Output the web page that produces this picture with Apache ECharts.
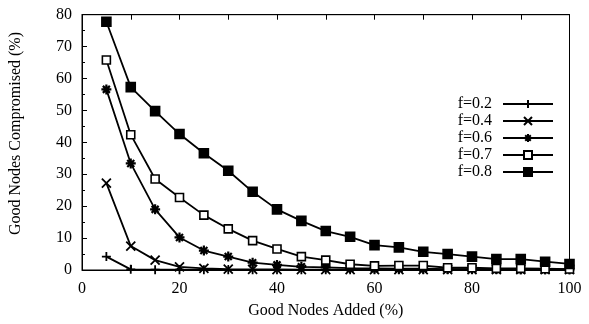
<!DOCTYPE html>
<html><head><meta charset="utf-8">
<script src="https://cdn.jsdelivr.net/npm/echarts@6/dist/echarts.min.js"></script>
<style>html,body{margin:0;padding:0;background:#fff}#c{width:589px;height:324px}</style>
</head><body><div id="c"></div>
<script>
var xValues = [5,10,15,20,25,30,35,40,45,50,55,60,65,70,75,80,85,90,95,100];
var f02 = [4.2,0.2,0.1,0.1,0.05,0.05,0.05,0.05,0.05,0.05,0.05,0.05,0.05,0.05,0.05,0.05,0.05,0.05,0.05,0.05];
var f04 = [27.2,7.5,3.1,1.0,0.5,0.3,0.2,0.15,0.1,0.1,0.1,0.1,0.1,0.1,0.1,0.1,0.1,0.1,0.1,0.1];
var f06 = [56.6,33.4,19.0,10.2,6.1,4.2,2.3,1.6,1.0,0.8,0.6,0.5,0.4,0.4,0.3,0.3,0.3,0.2,0.2,0.2];
var f07 = [65.8,42.4,28.5,22.7,17.2,12.9,9.2,6.6,4.2,3.1,1.8,1.3,1.4,1.4,0.7,0.7,0.5,0.5,0.4,0.3];
var f08 = [77.8,57.3,49.8,42.6,36.6,31.1,24.5,19.0,15.4,12.2,10.4,7.8,7.1,5.7,5.0,4.2,3.4,3.4,2.6,1.9];
var seriesNames = ['f=0.2','f=0.4','f=0.6','f=0.7','f=0.8'];
var yTicks = [0,10,20,30,40,50,60,70,80];
var xLabelTicks = [0,20,40,60,80,100];

var FONT = 'Liberation Serif';
function pairs(ys){ return xValues.map(function(x,i){ return [x, ys[i]]; }); }
var plus = 'path://M0,5L10,5M5,0L5,10';
var cross = 'path://M1,1L9,9M9,1L1,9';
var star = 'path://M0,5L10,5M5,0L5,10M1.5,1.5L8.5,8.5M8.5,1.5L1.5,8.5';
function mk(name, data, symbol, size, fill, bw){
  return {
    name: name, type: 'line', data: pairs(data), symbol: symbol, symbolSize: size,
    showAllSymbol: true,
    lineStyle: {color:'#000', width:1.8},
    itemStyle: {color: fill, borderColor:'#000', borderWidth:bw},
    emphasis: {disabled:true}, animation:false, z: 3
  };
}
var chart = echarts.init(document.getElementById('c'), null, {renderer:'canvas'});
chart.setOption({
  animation:false,
  backgroundColor:'#fff',
  grid:{left:82, right:19.5, top:14.7, bottom:54, show:true, borderColor:'#000', borderWidth:1, backgroundColor:'transparent'},
  legend:{
    orient:'vertical', right:30, top:91, align:'right', itemWidth:50, itemHeight:10, itemGap:1,
    textStyle:{fontFamily:FONT, fontSize:16, lineHeight:16, color:'#000', padding:[0,6,0,0]},
    data: seriesNames, selectedMode:false
  },
  xAxis:[{
    type:'value', min:0, max:100, interval:10,
    axisLine:{show:true, lineStyle:{color:'#000', width:1}},
    axisTick:{show:true, inside:true, length:5, lineStyle:{color:'#000'}},
    axisLabel:{fontFamily:FONT, fontSize:16, color:'#000', margin:11,
      formatter:function(v){ return xLabelTicks.indexOf(v) >= 0 ? String(v) : ''; }},
    splitLine:{show:false},
    name:'Good Nodes Added (%)', nameLocation:'middle', nameGap:33,
    nameTextStyle:{fontFamily:FONT, fontSize:16, color:'#000'}
  },{
    type:'value', min:0, max:100, interval:10, position:'top',
    axisLine:{show:true, lineStyle:{color:'#000', width:1}},
    axisTick:{show:true, inside:true, length:5, lineStyle:{color:'#000'}},
    axisLabel:{show:false}, splitLine:{show:false}
  }],
  yAxis:{
    type:'value', min:0, max:80, interval:10,
    axisLine:{show:true, lineStyle:{color:'#000', width:1}},
    axisTick:{show:true, inside:true, length:5, lineStyle:{color:'#000'}},
    minorTick:{show:true, splitNumber:2, length:3, lineStyle:{color:'#000'}},
    axisLabel:{fontFamily:FONT, fontSize:16, color:'#000', margin:10,
      formatter:function(v){ return yTicks.indexOf(v) >= 0 ? String(v) : ''; }},
    splitLine:{show:false}
  },
  graphic:[{
    type:'text', left:8, top:32, rotation:Math.PI/2, originX:0, originY:0,
    style:{text:'Good Nodes Compromised (%)', fontFamily:FONT, fontSize:16, fill:'#000', x:0, y:0}
  }],
  series:[
    mk('f=0.2', f02, plus, 9, '#000', 1.8),
    mk('f=0.4', f04, cross, 9, '#000', 1.8),
    mk('f=0.6', f06, star, 10, '#000', 2.2),
    mk('f=0.7', f07, 'rect', 8, '#fff', 1.6),
    mk('f=0.8', f08, 'rect', 9, '#000', 1.6)
  ]
});
</script></body></html>
